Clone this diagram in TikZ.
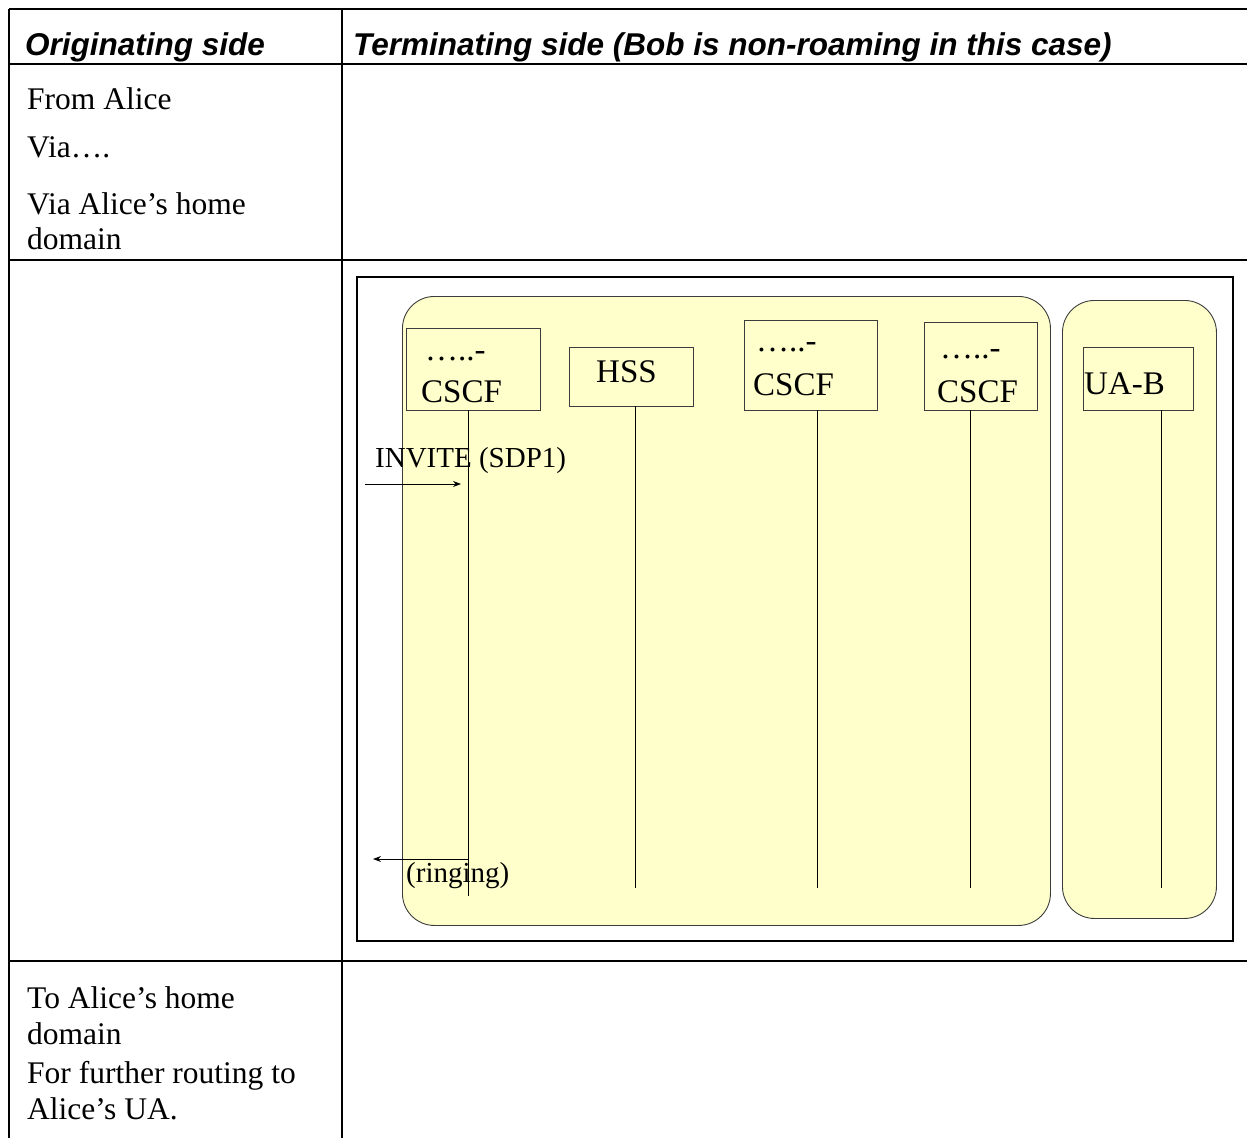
\documentclass[tikz,border=0pt]{standalone}
\usepackage{fontspec}
\setmainfont{Liberation Serif}
\newfontfamily\headfont{Liberation Sans}
\usetikzlibrary{arrows.meta}
\definecolor{paleyellow}{RGB}{255,255,204}
\definecolor{edgegray}{RGB}{60,60,60}
\begin{document}
\begin{tikzpicture}[x=1pt,y=-1pt,
  rule/.style={line width=1.6pt},
  framebox/.style={line width=2.4pt},
  zone/.style={draw=edgegray,fill=paleyellow,line width=0.9pt,rounded corners=32pt,
               inner sep=0,anchor=north west},
  entity/.style={draw=edgegray,fill=paleyellow,line width=0.9pt,inner sep=0,anchor=north west},
  life/.style={line width=0.9pt},
  msg/.style={line width=0.9pt,-{Stealth[length=8pt,width=6pt]}},
  hdr/.style={anchor=base west,inner sep=0,font=\headfont\bfseries\itshape\fontsize{31.5}{36}\selectfont},
  txt/.style={anchor=base west,inner sep=0,font=\fontsize{31.5}{36}\selectfont},
  entl/.style={anchor=base west,inner sep=0,font=\fontsize{33}{36}\selectfont},
  msgl/.style={anchor=base west,inner sep=0,font=\fontsize{29}{34}\selectfont},
]
\useasboundingbox (0,0) rectangle (1247,1138);

% table rules
\draw[rule] (9,9) -- (1247,9);
\draw[rule] (9,64) -- (1247,64);
\draw[rule] (9,260) -- (1247,260);
\draw[rule] (9,961) -- (1247,961);
\draw[rule] (9,9) -- (9,1138);
\draw[rule] (342,9) -- (342,1138);

% header
\node[hdr] (hleft) at (25,55) {Originating side};
\node[hdr] (hright) at (353,55) {Terminating side (Bob is non-roaming in this case)};

% left column texts
\node[txt] (t1) at (27,109) {From Alice};
\node[txt] (t2) at (27,157) {Via….};
\node[txt] (t3) at (27,214) {Via Alice’s home};
\node[txt] (t4) at (27,249) {domain};
\node[txt] (b1) at (27,1008) {To Alice’s home};
\node[txt] (b2) at (27,1044) {domain};
\node[txt] (b3) at (27,1083) {For further routing to};
\node[txt] (b4) at (27,1119) {Alice’s UA.};

% diagram frame
\draw[framebox] (357,277) rectangle (1233,941);

% domains
\node[zone, minimum width=648pt, minimum height=629pt] (homezone) at (402,296) {};
\node[zone, minimum width=154pt, minimum height=618pt] (uazone) at (1062,300) {};

% entities
\node[entity, minimum width=134pt, minimum height=82pt] (cscf1) at (406,328) {};
\node[entity, minimum width=124pt, minimum height=59pt] (hss) at (569,347) {};
\node[entity, minimum width=133pt, minimum height=90pt] (cscf2) at (744,320) {};
\node[entity, minimum width=113pt, minimum height=88pt] (cscf3) at (924,322) {};
\node[entity, minimum width=110pt, minimum height=63pt] (uab) at (1083,347) {};

\node[entl] (cscf1a) at (425,360) {…..-};
\node[entl] (cscf1b) at (421,402) {CSCF};
\node[entl] (hssl) at (596,382) {HSS};
\node[entl] (cscf2a) at (756,351) {…..-};
\node[entl] (cscf2b) at (753,395) {CSCF};
\node[entl] (cscf3a) at (940,358) {…..-};
\node[entl] (cscf3b) at (937,402) {CSCF};
\node[entl] (uabl) at (1084,394) {UA-B};

% lifelines
\coordinate (l1t) at (468,410); \coordinate (l1b) at (468,896);
\coordinate (l2t) at (635,406); \coordinate (l2b) at (635,888);
\coordinate (l3t) at (817,410); \coordinate (l3b) at (817,888);
\coordinate (l4t) at (970,410); \coordinate (l4b) at (970,888);
\coordinate (l5t) at (1161,410); \coordinate (l5b) at (1161,888);

% messages
\node[msgl] (invl) at (375,467) {INVITE (SDP1)};
\node[msgl] (ringl) at (406,882) {(ringing)};
\coordinate (invsrc) at (365,484);
\coordinate (invdst) at (461,484);
\coordinate (ringsrc) at (468,859);
\coordinate (ringdst) at (373,859);

\draw[life] (l1t) -- (l1b);
\draw[life] (l2t) -- (l2b);
\draw[life] (l3t) -- (l3b);
\draw[life] (l4t) -- (l4b);
\draw[life] (l5t) -- (l5b);

\draw[msg] (invsrc) -- (invdst);
\draw[msg] (ringsrc) -- (ringdst);
\end{tikzpicture}
\end{document}
